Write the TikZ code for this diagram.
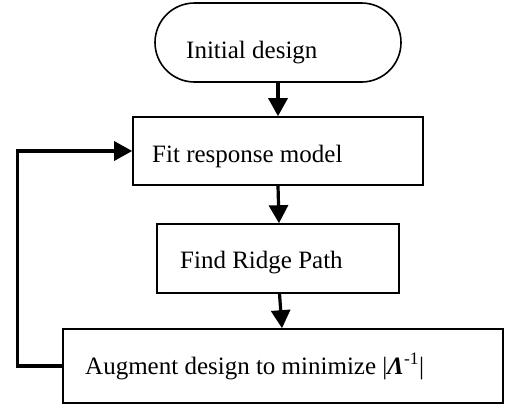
\documentclass[tikz,border=0pt]{standalone}
\usepackage{fontspec}
\setmainfont{Liberation Serif}
\usetikzlibrary{arrows.meta,shapes.misc}

\tikzset{
  stepbox/.style={draw, line width=1.6pt, inner sep=0pt, rectangle},
  startbox/.style={draw, line width=1.6pt, inner sep=0pt, rounded rectangle},
  label text/.style={anchor=base west, inner sep=0pt, font=\fontsize{25}{30}\selectfont},
  flow/.style={line width=3.2pt, -{Triangle[length=18pt,width=19pt]}}
}

\begin{document}
\begin{tikzpicture}[x=1pt, y=-1pt]
  \useasboundingbox (0,0) rectangle (505,407);

  % process blocks
  \node[startbox, minimum width=246pt, minimum height=79pt] (init) at (278,42.5) {};
  \node[stepbox, minimum width=290pt, minimum height=68pt] (fit) at (278,151) {};
  \node[stepbox, minimum width=242pt, minimum height=69pt] (ridge) at (278,258.5) {};
  \node[stepbox, minimum width=440pt, minimum height=74pt] (aug) at (283,366) {};

  % block captions
  \node[label text] (initT) at (186,58) {Initial design};
  \node[label text] (fitT) at (152,162) {Fit response model};
  \node[label text] (ridgeT) at (180,268) {Find Ridge Path};
  \node[label text] (augT) at (85,374)
    {Augment design to minimize |{\bfseries\itshape Λ}\textsuperscript{-1}|};

  % flow connectors
  \draw[flow] (init.south) -- (fit.north);
  \draw[flow] (fit.south) -- ([xshift=1pt]ridge.north);
  \draw[flow] ([xshift=1.5pt]ridge.south) -- ([xshift=-1pt]aug.north);
  \draw[flow] (aug.west) -- ++(-45,0) |- (fit.west);
\end{tikzpicture}
\end{document}
